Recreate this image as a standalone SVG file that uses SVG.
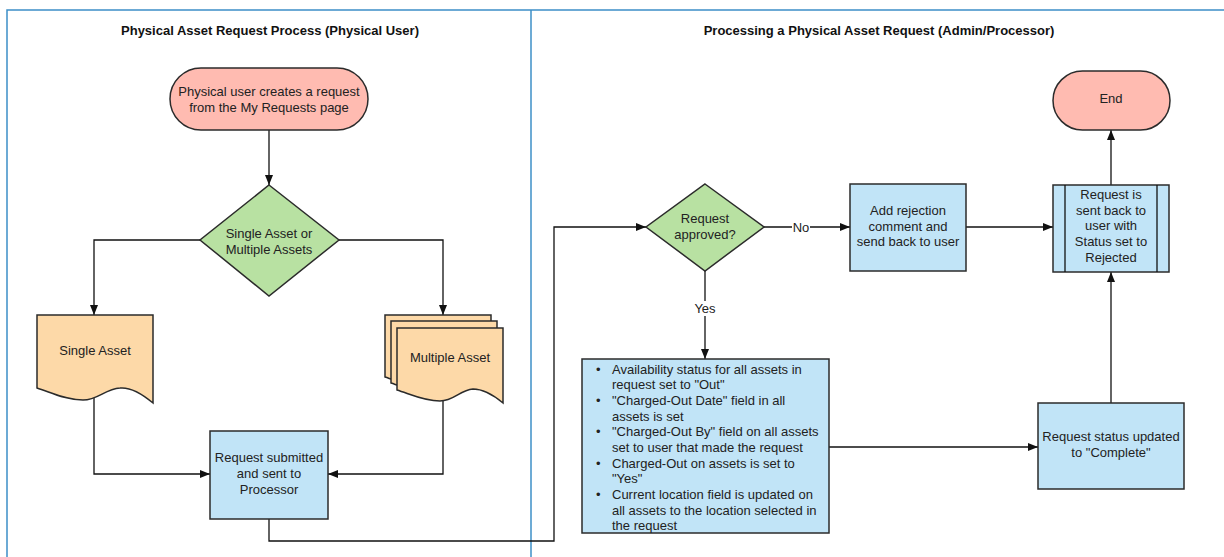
<svg xmlns="http://www.w3.org/2000/svg" width="1224" height="557" viewBox="0 0 1224 557">
<defs>
<style>
text{font-family:"Liberation Sans",Arial,sans-serif;font-size:13px;fill:#222;}
.t{font-weight:bold;font-size:13px;fill:#111;}
.c{text-anchor:middle;}
.frame{stroke:#3d8fc7;stroke-width:1.5;fill:none;}
.term{fill:#ffbbb1;stroke:#2b2b2b;stroke-width:1.5;}
.dec{fill:#b8e1a2;stroke:#2b2b2b;stroke-width:1.5;}
.doc{fill:#fdd9a8;stroke:#2b2b2b;stroke-width:1.5;}
.proc{fill:#c1e4f7;stroke:#2b2b2b;stroke-width:1.5;}
.ln{fill:none;stroke:#111;stroke-width:1.3;}
</style>
<marker id="ah" viewBox="0 0 10 10" refX="10" refY="5" markerWidth="10" markerHeight="10" markerUnits="userSpaceOnUse" orient="auto">
<path d="M0,1 L10,5 L0,9 Z" fill="#111"/>
</marker>
<path id="docf" d="M0,0 H106 V75 C94,65 85,61 76,61 C63,62 57,73 43,73 C27,73 13,66 0,62 Z"/>
</defs>
<g id="frame">
<path class="frame" d="M7,557 V10 H1224"/>
<line class="frame" x1="531" y1="10" x2="531" y2="557"/>
<text class="t c" x="270" y="35">Physical Asset Request Process (Physical User)</text>
<text class="t c" x="879" y="35">Processing a Physical Asset Request (Admin/Processor)</text>
</g>
<g id="connectors">
<line class="ln" x1="269" y1="130" x2="269" y2="185" marker-end="url(#ah)"/>
<polyline class="ln" points="200,240 94,240 94,315" marker-end="url(#ah)"/>
<polyline class="ln" points="339,240 443,240 443,315" marker-end="url(#ah)"/>
<polyline class="ln" points="94,398 94,474 210,474" marker-end="url(#ah)"/>
<polyline class="ln" points="443,401 443,474 328,474" marker-end="url(#ah)"/>
<polyline class="ln" points="269,519 269,541 554,541 554,227 646,227" marker-end="url(#ah)"/>
<line class="ln" x1="764" y1="227" x2="850" y2="227" marker-end="url(#ah)"/>
<rect x="792" y="219" width="18" height="15" fill="#fff"/>
<text class="c" x="801" y="232">No</text>
<line class="ln" x1="966" y1="227" x2="1053" y2="227" marker-end="url(#ah)"/>
<line class="ln" x1="1111" y1="185" x2="1111" y2="130" marker-end="url(#ah)"/>
<line class="ln" x1="705" y1="271" x2="705" y2="359" marker-end="url(#ah)"/>
<rect x="692" y="301" width="26" height="15" fill="#fff"/>
<text class="c" x="705" y="313">Yes</text>
<line class="ln" x1="829" y1="447" x2="1038" y2="447" marker-end="url(#ah)"/>
<line class="ln" x1="1111" y1="403" x2="1111" y2="272" marker-end="url(#ah)"/>
</g>
<g id="start">
<rect class="term" x="170" y="68" width="198" height="62" rx="31"/>
<text class="c" x="269" y="96">Physical user creates a request</text>
<text class="c" x="269" y="112">from the My Requests page</text>
</g>
<g id="choice">
<polygon class="dec" points="269,185 339,240 269,296 200,240"/>
<text class="c" x="269" y="238">Single Asset or</text>
<text class="c" x="269" y="254">Multiple Assets</text>
</g>
<g id="single">
<path class="doc" d="M37,315 H153 V403 C140,392 130,387 120,388 C105,389 98,400 83,400 C65,400 50,392 37,388 Z"/>
<text class="c" x="95" y="355">Single Asset</text>
</g>
<g id="multiple">
<use href="#docf" class="doc" x="385" y="315"/>
<use href="#docf" class="doc" x="391" y="321"/>
<use href="#docf" class="doc" x="397" y="328"/>
<text class="c" x="450" y="362">Multiple Asset</text>
</g>
<g id="submitted">
<rect class="proc" x="210" y="431" width="118" height="88"/>
<text class="c" x="269" y="462">Request submitted</text>
<text class="c" x="269" y="478">and sent to</text>
<text class="c" x="269" y="494">Processor</text>
</g>
<g id="approved">
<polygon class="dec" points="705,184 764,227 705,271 646,227"/>
<text class="c" x="705" y="223">Request</text>
<text class="c" x="705" y="239">approved?</text>
</g>
<g id="rejection">
<rect class="proc" x="850" y="184" width="116" height="87"/>
<text class="c" x="908" y="215">Add rejection</text>
<text class="c" x="908" y="231">comment and</text>
<text class="c" x="908" y="246">send back to user</text>
</g>
<g id="sentback">
<rect class="proc" x="1053" y="185" width="116" height="87"/>
<line class="ln" x1="1065" y1="185" x2="1065" y2="272" stroke="#2b2b2b"/>
<line class="ln" x1="1157" y1="185" x2="1157" y2="272" stroke="#2b2b2b"/>
<text class="c" x="1111" y="199">Request is</text>
<text class="c" x="1111" y="215">sent back to</text>
<text class="c" x="1111" y="230">user with</text>
<text class="c" x="1111" y="246">Status set to</text>
<text class="c" x="1111" y="262">Rejected</text>
</g>
<g id="end">
<rect class="term" x="1053" y="71" width="117" height="59" rx="29.5"/>
<text class="c" x="1111" y="103">End</text>
</g>
<g id="chargeout">
<rect class="proc" x="582" y="359" width="247" height="174"/>
<g>
<text x="596" y="374">•</text><text x="612" y="374">Availability status for all assets in</text>
<text x="612" y="389">request set to "Out"</text>
<text x="596" y="405">•</text><text x="612" y="405">"Charged-Out Date" field in all</text>
<text x="612" y="421">assets is set</text>
<text x="596" y="436">•</text><text x="612" y="436">"Charged-Out By" field on all assets</text>
<text x="612" y="452">set to user that made the request</text>
<text x="596" y="468">•</text><text x="612" y="468">Charged-Out on assets is set to</text>
<text x="612" y="483">"Yes"</text>
<text x="596" y="499">•</text><text x="612" y="499">Current location field is updated on</text>
<text x="612" y="515">all assets to the location selected in</text>
<text x="612" y="530">the request</text>
</g>
</g>
<g id="complete">
<rect class="proc" x="1038" y="403" width="146" height="86"/>
<text class="c" x="1111" y="441">Request status updated</text>
<text class="c" x="1111" y="457">to "Complete"</text>
</g>
</svg>
